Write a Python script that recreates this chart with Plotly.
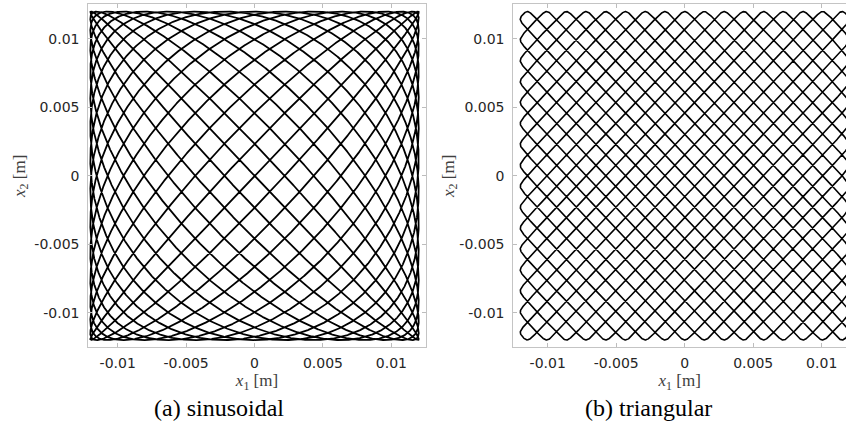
import numpy as np
import plotly.graph_objects as go

# ---- data ----
AMPLITUDE_M = 0.012          # half-width of the scanned square [m]
FREQ_X = 16                  # cycles of x1 per closed figure
FREQ_Y = 17                  # cycles of x2 per closed figure
PHASE_X = 0.25 / 17          # phase of x1 [cycles]
PHASE_Y = 0.0                # phase of x2 [cycles]
CORNER_SOFTNESS = 0.9995     # rounding of the triangular turning points
N_SAMPLES = 30000

TICK_VALUES = [-0.01, -0.005, 0, 0.005, 0.01]
TICK_LABELS = ["-0.01", "-0.005", "0", "0.005", "0.01"]
CAPTIONS = ["(a) sinusoidal", "(b) triangular"]
X_TITLE = "<i>x</i><sub>1</sub> [m]"
Y_TITLE = "<i>x</i><sub>2</sub> [m]"

# ---- trajectories ----
t = np.linspace(0.0, 1.0, N_SAMPLES)
ux = FREQ_X * t + PHASE_X
uy = FREQ_Y * t + PHASE_Y


def sine_wave(u):
    return np.sin(2 * np.pi * (u - 0.25))


def tri_wave(u):
    k = CORNER_SOFTNESS
    return np.arcsin(k * np.sin(2 * np.pi * (u - 0.25))) / np.arcsin(k)


xs = AMPLITUDE_M * sine_wave(ux)
ys = AMPLITUDE_M * sine_wave(uy)
xt = AMPLITUDE_M * tri_wave(ux)
yt = AMPLITUDE_M * tri_wave(uy)

W, H = 846, 434
fig = go.Figure()
fig.add_trace(go.Scatter(x=xs, y=ys, mode="lines", line=dict(color="black", width=1.8),
                         xaxis="x", yaxis="y", hoverinfo="skip"))
fig.add_trace(go.Scatter(x=xt, y=yt, mode="lines", line=dict(color="black", width=1.6),
                         xaxis="x2", yaxis="y2", hoverinfo="skip"))

tickfont = dict(family="DejaVu Sans", size=14, color="#262626")
titlefont = dict(family="Liberation Serif", size=17, color="#404040")
common = dict(tickvals=TICK_VALUES, ticktext=TICK_LABELS, ticks="inside", ticklen=4,
              tickcolor="#bdbdbd", showline=True, linecolor="#c4c4c4", linewidth=1,
              showgrid=False, zeroline=False, tickfont=tickfont, automargin=False)

ydom = [1 - 347.3 / H, 1 - 4.3 / H]
fig.update_layout(
    width=W, height=H, margin=dict(l=0, r=0, t=0, b=0, autoexpand=False),
    paper_bgcolor="white", plot_bgcolor="white", showlegend=False,
    xaxis=dict(domain=[88.3 / W, 425.7 / W], range=[-0.01215, 0.01251], anchor="y",
               mirror="ticks", ticklabelstandoff=3,
               title=dict(text=X_TITLE, font=titlefont, standoff=0), **common),
    yaxis=dict(domain=ydom, range=[-0.01253, 0.01253], anchor="x",
               mirror="ticks", ticklabelstandoff=5,
               title=dict(text=Y_TITLE, font=titlefont, standoff=4), **common),
    xaxis2=dict(domain=[513.3 / W, 1.0], range=[-0.01251, 0.011774], anchor="y2",
                mirror="ticks", ticklabelstandoff=3,
                title=dict(text=X_TITLE, font=titlefont, standoff=0), **common),
    yaxis2=dict(domain=ydom, range=[-0.01253, 0.01253], anchor="x2",
                mirror=False, ticklabelstandoff=5,
                title=dict(text=Y_TITLE, font=titlefont, standoff=0), **common),
)

for cx, text in zip([219, 648], CAPTIONS):
    fig.add_annotation(x=cx / W, y=1 - 408 / H, xref="paper", yref="paper",
                       text=text, showarrow=False, xanchor="center", yanchor="middle",
                       font=dict(family="Liberation Serif", size=24, color="black"))

fig.write_html("out.html", config={"displayModeBar": False},
               post_script="document.body.style.margin='0';")
